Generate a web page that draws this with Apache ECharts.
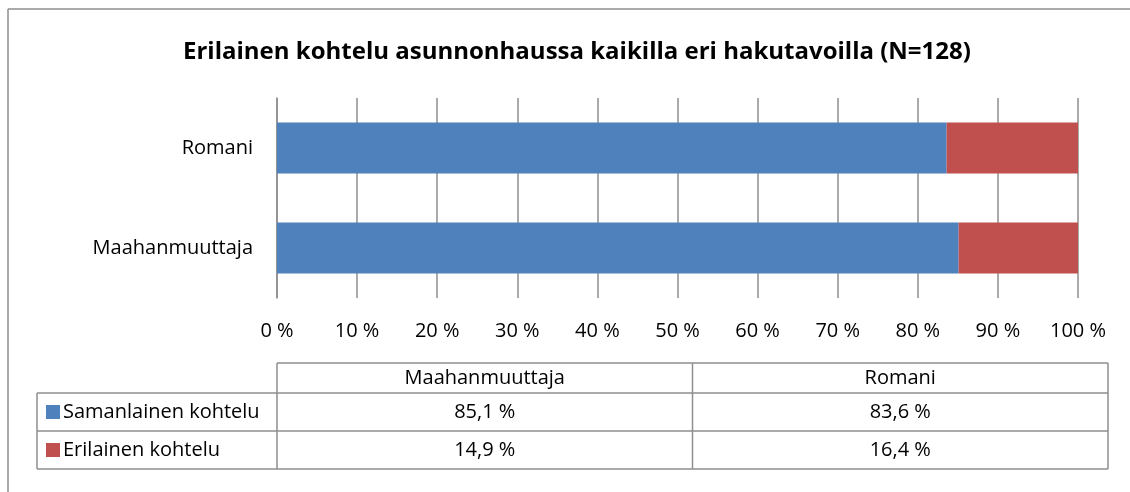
<!DOCTYPE html>
<html>
<head>
<meta charset="utf-8">
<script src="https://cdn.jsdelivr.net/npm/echarts@6/dist/echarts.min.js"></script>
<style>
  html, body { margin: 0; padding: 0; background: #fff; }
  #myChart { width: 1130px; height: 492px; }
</style>
</head>
<body>
<div id="myChart"></div>
<script>
  // data
  const categories = ['Maahanmuuttaja', 'Romani'];
  const seriesNames = ['Samanlainen kohtelu', 'Erilainen kohtelu'];
  const samanlainen = [85.1, 83.6];
  const erilainen = [14.9, 16.4];
  const xTicks = [0, 10, 20, 30, 40, 50, 60, 70, 80, 90, 100];

  const colors = ['#4f81bd', '#c0504d'];
  const lineColor = '#8e8e8e';
  const font = '"Open Sans", sans-serif';
  const fs = 20;

  function fmt(v) {
    return v.toFixed(1).replace('.', ',') + ' %';
  }

  // data table under the chart
  function buildTable() {
    const left = 37, colStart = 277, right = 1108;
    const headTop = 363, rowTop = 393, rowH = 38;
    const colW = (right - colStart) / categories.length;
    const rows = [samanlainen, erilainen];
    const els = [];
    const line = (x1, y1, x2, y2) => ({
      type: 'line',
      shape: { x1: x1, y1: y1, x2: x2, y2: y2 },
      style: { stroke: lineColor, lineWidth: 1.5 }
    });
    const bottom = rowTop + rowH * rows.length;
    // horizontal lines
    els.push(line(colStart, headTop, right, headTop));
    for (let i = 0; i <= rows.length; i++) {
      els.push(line(left, rowTop + i * rowH, right, rowTop + i * rowH));
    }
    // vertical lines
    els.push(line(left, rowTop, left, bottom));
    for (let c = 0; c <= categories.length; c++) {
      els.push(line(colStart + c * colW, headTop, colStart + c * colW, bottom));
    }
    // header
    categories.forEach(function (cat, c) {
      els.push({
        type: 'text',
        style: {
          text: cat, x: colStart + c * colW + colW / 2, y: (headTop + rowTop) / 2,
          align: 'center', verticalAlign: 'middle',
          font: fs + 'px ' + font, fill: '#000'
        }
      });
    });
    // rows
    rows.forEach(function (vals, r) {
      const cy = rowTop + r * rowH + rowH / 2;
      els.push({
        type: 'rect',
        shape: { x: 46, y: cy - 7, width: 14, height: 14 },
        style: { fill: colors[r] }
      });
      els.push({
        type: 'text',
        style: {
          text: seriesNames[r], x: 63, y: cy,
          align: 'left', verticalAlign: 'middle',
          font: fs + 'px ' + font, fill: '#000'
        }
      });
      vals.forEach(function (v, c) {
        els.push({
          type: 'text',
          style: {
            text: fmt(v), x: colStart + c * colW + colW / 2, y: cy,
            align: 'center', verticalAlign: 'middle',
            font: fs + 'px ' + font, fill: '#000'
          }
        });
      });
    });
    // outer frame of the chart area
    els.push(line(8, 9, 1130, 9));
    els.push(line(8, 9, 8, 492));
    return els;
  }

  let myChart = echarts.init(document.getElementById('myChart'));

  myChart.setOption({
    animation: false,
    backgroundColor: '#fff',
    title: {
      text: 'Erilainen kohtelu asunnonhaussa kaikilla eri hakutavoilla (N=128)',
      left: 178,
      top: 35,
      textStyle: {
        fontFamily: font,
        fontSize: 24,
        fontWeight: 'bold',
        color: '#000'
      }
    },
    grid: {
      left: 277,
      right: 52,
      top: 98,
      height: 200,
      containLabel: false
    },
    xAxis: {
      type: 'value',
      min: 0,
      max: 100,
      interval: 10,
      axisLine: { show: false },
      axisTick: { show: false },
      splitLine: { show: true, lineStyle: { color: lineColor, width: 1.5 } },
      axisLabel: {
        margin: 23,
        fontFamily: font,
        fontSize: fs,
        color: '#000',
        formatter: function (v) { return xTicks.indexOf(v) >= 0 ? v + ' %' : ''; }
      }
    },
    yAxis: {
      type: 'category',
      data: categories,
      axisLine: { show: true, lineStyle: { color: lineColor, width: 1.5 } },
      axisTick: { show: false },
      axisLabel: {
        margin: 24,
        fontFamily: font,
        fontSize: fs,
        color: '#000'
      }
    },
    series: [
      {
        name: seriesNames[0],
        type: 'bar',
        stack: 'total',
        barWidth: 51,
        itemStyle: { color: colors[0] },
        data: samanlainen
      },
      {
        name: seriesNames[1],
        type: 'bar',
        stack: 'total',
        barWidth: 51,
        itemStyle: { color: colors[1] },
        data: erilainen
      }
    ],
    graphic: buildTable()
  });
</script>
</body>
</html>
